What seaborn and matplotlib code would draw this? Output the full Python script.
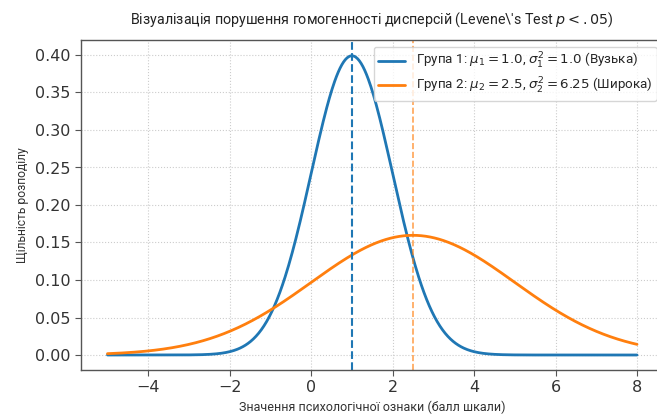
import numpy as np
import pandas as pd
import matplotlib
matplotlib.use("Agg")
import matplotlib.pyplot as plt
import seaborn as sns

# Parameters
group_labels = [r"Група 1: $\mu_1 = 1.0$, $\sigma_1^2 = 1.0$ (Вузька)",
                r"Група 2: $\mu_2 = 2.5$, $\sigma_2^2 = 6.25$ (Широка)"]
means = [1.0, 2.5]
variances = [1.0, 6.25]
x_range = [-5, 8]
x_ticks = [-4, -2, 0, 2, 4, 6, 8]
y_ticks = [0.00, 0.05, 0.10, 0.15, 0.20, 0.25, 0.30, 0.35, 0.40]
colors = ["#1f77b4", "#ff7f0e"]

sns.set_theme(style="whitegrid")
plt.rcParams['font.family'] = ['Roboto', 'DejaVu Sans']
plt.rcParams['mathtext.fontset'] = 'dejavusans'

x = np.linspace(x_range[0], x_range[1], 600)
frames = []
for lab, m, v in zip(group_labels, means, variances):
    s = np.sqrt(v)
    y = np.exp(-0.5 * ((x - m) / s) ** 2) / (s * np.sqrt(2 * np.pi))
    frames.append(pd.DataFrame({"x": x, "y": y, "group": lab}))
df = pd.concat(frames, ignore_index=True)

fig = plt.figure(figsize=(6.57, 4.15), dpi=100)
ax = fig.add_axes([81/657, 45/415, (663.5-81)/657, 330/415])

sns.lineplot(data=df, x="x", y="y", hue="group", palette=colors, linewidth=2, ax=ax)
ax.axvline(means[0], color=colors[0], linestyle="--", linewidth=1.5)
ax.axvline(means[1], color=colors[1], linestyle="--", linewidth=1.2, alpha=0.7)

ax.set_xlim(-5.65, 8.65)
ax.set_ylim(-0.02, 0.42)
ax.set_yticks(y_ticks)
ax.set_yticklabels([f"{t:.2f}" for t in y_ticks])
ax.set_xticks(x_ticks)
ax.set_xticklabels([str(t).replace("-", "\u2212") for t in x_ticks])
for lab in ax.get_xticklabels() + ax.get_yticklabels():
    lab.set_fontfamily(['DejaVu Sans'])

ax.grid(True, linestyle=":", color="#cccccc", linewidth=0.8)
for sp in ax.spines.values():
    sp.set_color("#555555")
    sp.set_linewidth(1.0)
ax.tick_params(axis="both", which="both", length=4, width=0.8, color="#555555",
               labelsize=11.5, labelcolor="#333333", bottom=True, left=True)

ax.set_title(r"Візуалізація порушення гомогенності дисперсій (Levene\'s Test $p < .05$)",
             fontsize=10.3, color="#222222", pad=12)
ax.set_xlabel("Значення психологічної ознаки (балл шкали)", fontsize=9, color="#333333")
ax.set_ylabel("Щільність розподілу", fontsize=8.7, color="#333333")

leg = ax.legend(loc="upper right", fontsize=9.6, frameon=True,
                labelspacing=0.35, borderpad=0.35, handlelength=2.0)
leg.set_title(None)

fig.savefig("out.png", dpi=100)
